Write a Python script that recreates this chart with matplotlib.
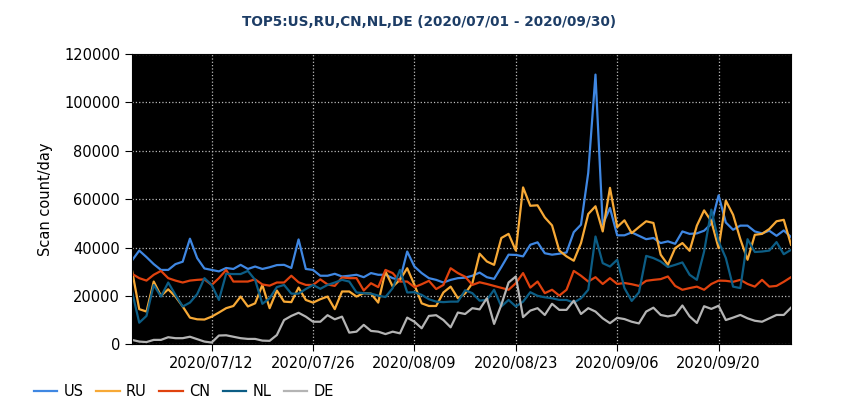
import matplotlib
matplotlib.use('Agg')
import matplotlib.pyplot as plt
import matplotlib.dates as mdates
import numpy as np
import pandas as pd

plt.rcParams['font.family'] = ['DejaVu Sans Condensed', 'DejaVu Sans']

days = pd.date_range('2020-07-01', '2020-09-30', freq='D')

us = [34700, 38800, 36100, 33200, 30800, 30800, 33200, 34200, 43700, 35700,
      31400, 30800, 30200, 31600, 31200, 32900, 31200, 32200, 31200, 31900,
      32800, 32900, 31600, 43400, 31200, 30800, 28400, 28400, 29200, 28100,
      28400, 28800, 27800, 29500, 28800, 28800, 27400, 26700, 38400, 32200,
      29500, 27400, 26700, 25600, 26700, 27400, 27600, 28400, 29700, 27800,
      27100, 32000, 37100, 37000, 36400, 41200, 42200, 37700, 37100, 37500,
      38000, 46400, 49500, 70900, 111500, 49500, 56400, 45100, 45100, 46300,
      44900, 43500, 44000, 41900, 42600, 41600, 46700, 45700, 45900, 47000,
      49900, 61600, 50400, 47400, 49100, 49100, 46700, 45900, 47000, 44900,
      47100, 44400]
ru = [30600, 14600, 13600, 26000, 20100, 22800, 19800, 15700, 11100, 10400,
      10300, 11500, 13200, 15000, 15900, 19800, 15700, 17000, 24600, 15000,
      22300, 17700, 17500, 23500, 18400, 17300, 18700, 19800, 14600, 21900,
      21900, 19800, 21200, 21000, 17300, 30200, 23900, 26700, 31500, 24600,
      17000, 15900, 15900, 21500, 23900, 19100, 21100, 25300, 37500, 34300,
      32900, 44000, 45700, 38800, 64900, 57300, 57500, 52500, 49200, 38800,
      36400, 34600, 41900, 53900, 57100, 46700, 64700, 48500, 51300, 46000,
      48500, 50900, 50200, 37100, 32900, 39800, 41900, 38700, 49100, 55400,
      50900, 39800, 59400, 53600, 43500, 35000, 45300, 45700, 47700, 50900,
      51500, 41200]
cn = [29200, 27400, 26400, 28800, 30400, 27400, 26400, 25600, 26400, 26700,
      26900, 24600, 27400, 30800, 26000, 26000, 26000, 26900, 24800, 24300,
      25600, 25600, 28400, 25700, 24600, 24600, 26900, 24800, 24200, 27700,
      27400, 27400, 22300, 25300, 23700, 30800, 29500, 26000, 26000, 23700,
      24900, 26300, 22900, 24600, 31500, 29500, 28000, 24600, 25700, 25000,
      24200, 23400, 22600, 25300, 29500, 23500, 26000, 21200, 22600, 20200,
      22600, 30400, 28400, 26000, 27800, 25000, 27400, 25000, 25400, 24900,
      24200, 26300, 26700, 27000, 28100, 24200, 22600, 23300, 23900, 22600,
      25000, 26400, 26300, 25900, 26700, 25000, 23900, 26700, 23900, 24200,
      25900, 27800]
nl = [21900, 9000, 11800, 24600, 19800, 25600, 20500, 15700, 17300, 20800,
      27400, 24600, 18400, 29200, 29100, 29100, 30400, 26700, 16800, 19100,
      23700, 24600, 21000, 21000, 22900, 24600, 23000, 24600, 25600, 26700,
      26000, 21500, 21200, 21000, 20200, 19600, 23300, 30800, 21500, 21600,
      20500, 18700, 17700, 17500, 17700, 17700, 22400, 21200, 18100, 18400,
      22600, 15700, 18400, 15700, 17700, 21600, 20100, 19500, 19100, 18400,
      18400, 17300, 19100, 22600, 44600, 33600, 32200, 35000, 23300, 18000,
      21500, 36600, 35700, 34300, 32000, 32900, 33900, 28800, 26700, 38400,
      55700, 42600, 35700, 23900, 23300, 43500, 38200, 38400, 38800, 42300,
      37300, 39100]
de = [1900, 1200, 1000, 1900, 1900, 3000, 2600, 2600, 3200, 2200,
      1200, 800, 3700, 3800, 3200, 2600, 2300, 2300, 1600, 1500,
      3900, 10100, 11800, 13100, 11500, 9400, 9400, 12100, 10400, 11500,
      4900, 5300, 8100, 5600, 5300, 4300, 5300, 4600, 11100, 9400,
      6700, 11800, 12100, 10100, 7100, 13200, 12600, 15000, 14500, 19100,
      8500, 16400, 25600, 28100, 11300, 14000, 15000, 12200, 16800, 14300,
      14300, 18100, 12600, 15000, 13600, 10800, 8800, 11000, 10500, 9400,
      8700, 13600, 15200, 12200, 11600, 12200, 16100, 11600, 8900, 15800,
      14700, 16000, 10100, 11100, 12200, 10800, 9800, 9400, 10800, 12200,
      12200, 15200]

names = ['US', 'RU', 'CN', 'NL', 'DE']
series = [us, ru, cn, nl, de]
colors = ['#3f87e2', '#f7a936', '#e0420e', '#0c5d85', '#b4b4b4']

fig = plt.figure(figsize=(8.5, 4.2), dpi=100)
ax = fig.add_axes([0.1553, 0.1798, 0.7753, 0.6916])
ax.set_facecolor('black')

for name, vals, c in zip(names, series, colors):
    ax.plot(days, vals, color=c, lw=1.6, label=name)

ax.set_xlim(days[0], days[-1])
ax.set_ylim(0, 120000)
ax.set_yticks(np.arange(0, 120001, 20000))
ax.set_xticks(pd.date_range('2020-07-12', '2020-09-30', freq='14D'))
ax.xaxis.set_major_formatter(mdates.DateFormatter('%Y/%m/%d'))
ax.tick_params(labelsize=10.5, length=5, color='black')
ax.grid(True, color='#bbbbbb', ls=':', lw=0.9)
for s in ax.spines.values():
    s.set_color('black')

ax.set_ylabel('Scan count/day', fontsize=10.5, labelpad=8)
fig.suptitle('TOP5:US,RU,CN,NL,DE (2020/07/01 - 2020/09/30)', x=0.505, y=0.965,
             fontsize=9.8, fontweight='bold', color='#1d3d66')

fig.legend(loc='center left', bbox_to_anchor=(0.033, 0.067), ncol=5, frameon=False,
           borderaxespad=0, fontsize=10.5, handlelength=1.6, handletextpad=0.45,
           columnspacing=0.85)

fig.savefig('out.png', dpi=100)
